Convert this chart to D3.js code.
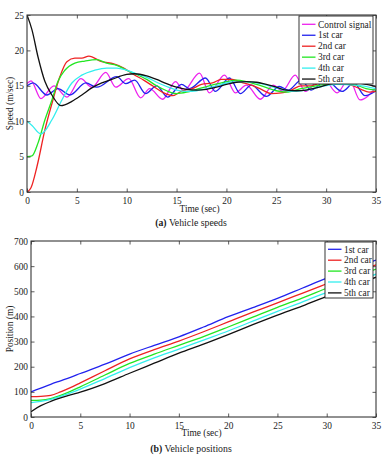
<!DOCTYPE html>
<html><head><meta charset="utf-8">
<script src="https://cdn.jsdelivr.net/npm/d3@7"></script>
<style>
html,body{margin:0;padding:0;background:#fff;}
svg{display:block;}
text{font-family:"Liberation Serif","DejaVu Serif","Times New Roman",serif;fill:#222;}
</style></head>
<body>
<svg id="c" width="383" height="457"></svg>
<script>
// ---------- Data: (a) vehicle speeds ----------
const speedTicksX = [0,5,10,15,20,25,30,35];
const speedTicksY = [0,5,10,15,20,25];
const controlT = [0,0.4,1.4,2.7,4.0,5.4,6.5,7.9,8.9,10.2,11.4,12.3,13.6,14.9,15.7,17.3,18.3,19.8,20.9,22.0,23.4,24.7,25.6,26.9,27.9,29.6,31.1,32.3,33.4,35];
const controlV = [15.3,15.7,13.2,15.0,13.4,16.0,14.8,16.9,14.8,16.0,13.3,14.6,13.1,15.6,14.3,16.8,14.0,16.5,14.0,15.1,13.1,15.1,14.3,16.5,14.2,16.3,14.0,16.0,13.0,14.8];
const car1T = [0,0.6,2.0,3.1,4.3,5.9,7.0,9.0,9.9,10.8,11.9,13.0,14.1,15.5,16.3,17.9,18.9,20.3,21.4,22.5,24.0,25.3,26.2,27.5,28.5,30.0,31.6,32.8,33.9,35];
const car1V = [15.0,15.4,13.7,14.6,13.7,15.4,14.8,16.3,15.3,15.8,13.9,15.0,13.4,15.2,14.6,16.1,14.2,16.1,13.9,15.1,13.5,14.9,14.4,15.8,14.4,15.8,14.2,15.4,13.6,14.3];
const car2T = [0,0.4,1.0,1.8,2.6,3.3,4.0,4.8,5.5,6.2,7.5,8.7,9.7,10.7,11.7,12.7,13.7,14.6,15.6,16.6,17.5,18.6,19.5,20.6,21.5,22.5,23.5,24.5,25.5,26.5,27.5,28.5,29.5,30.5,31.5,32.5,33.5,34.3,35];
const car2V = [0,0.6,3.6,8.8,13.0,16.3,18.4,18.9,18.9,19.2,18.4,18.1,17.5,16.6,15.8,14.9,14.0,13.6,14.3,14.6,15.2,15.4,15.9,15.9,15.5,15.1,14.5,13.9,14.0,14.4,15.0,15.0,15.4,15.3,15.3,15.1,14.5,14.1,14.2];
const car3T = [0,0.5,1.1,1.8,2.5,3.1,3.8,4.8,5.8,7.0,8.0,9.0,10.0,11.0,12.0,13.0,14.0,15.0,16.0,17.0,18.0,19.5,21.0,22.0,23.5,25.0,26.0,27.5,29.0,31.0,33.0,34.0,35];
const car3V = [5.0,5.1,6.9,10.2,13.0,15.6,17.2,18.2,18.5,18.7,18.2,17.9,17.2,16.6,15.9,15.0,14.3,13.9,14.1,14.5,14.9,15.4,15.8,15.6,15.0,14.3,14.1,14.6,15.0,15.3,15.1,14.6,14.4];
const car4T = [0,0.5,1.4,2.5,3.5,4.5,5.5,6.8,8.0,9.0,10.0,11.0,12.0,13.0,14.0,15.0,16.0,17.0,18.0,19.0,20.5,22.0,23.5,25.0,26.5,28.0,29.5,31.0,33.0,35];
const car4V = [10.0,9.4,8.2,10.2,13.0,15.4,16.5,17.2,17.5,17.5,17.2,16.7,16.2,15.5,14.9,14.4,14.2,14.3,14.6,15.0,15.5,15.6,15.3,14.7,14.2,14.4,14.9,15.2,15.1,14.6];
const car5T = [0,0.5,1.1,1.8,2.5,3.4,4.5,5.5,6.5,7.5,8.5,10.0,10.8,12.0,13.0,14.0,15.0,16.0,17.0,18.0,19.0,20.0,21.0,22.0,23.0,24.0,25.0,26.0,27.0,28.0,29.0,30.0,31.0,32.0,33.0,34.0,35.0];
const car5V = [25.0,22.9,19.1,15.6,13.7,12.2,12.8,13.7,14.7,15.4,15.9,16.6,16.7,16.4,15.9,15.3,14.8,14.5,14.4,14.5,14.8,15.2,15.5,15.6,15.5,15.2,14.8,14.4,14.3,14.4,14.7,15.1,15.4,15.5,15.4,15.2,14.9];
const speedNames = ["Control signal","1st car","2nd car","3rd car","4th car","5th car"];

// ---------- Data: (b) vehicle positions ----------
const posTicksX = [0,5,10,15,20,25,30,35];
const posTicksY = [0,100,200,300,400,500,600,700];
const posT = [0,1,2,3,4,5,7.5,10,12.5,15,17.5,20,22.5,25,27.5,30,32.5,35];
const pos1 = [100,115,130,144,158,173,210,250,285,319,358,399,435,472,512,552,588,624];
const pos2 = [81,82,86,100,117,136,184,231,268,302,339,378,417,454,492,530,568,605];
const pos3 = [66,67,73,86,102,120,167,213,250,285,320,358,397,436,473,512,550,588];
const pos4 = [57,62,70,82,96,111,153,196,235,270,306,342,381,420,457,496,533,568];
const pos5 = [21,45,62,76,88,99,133,174,214,254,290,328,367,405,441,480,518,556];
const posNames = ["1st car","2nd car","3rd car","4th car","5th car"];

const colors = {m:"#ee22ee", b:"#2222ee", r:"#ee2222", g:"#22e622", c:"#33eeee", k:"#111111"};
const FONT = "Liberation Serif, DejaVu Serif, serif";

const svg = d3.select("#c");

function panel(opts){
  const {L,R,T,B,xDom,yDom,xTicks,yTicks,series,names,cols,legend,yLabel,caption,captionRest,xLabelY,captionY,id} = opts;
  const x = d3.scaleLinear().domain(xDom).range([L,R]);
  const y = d3.scaleLinear().domain(yDom).range([B,T]);
  const g = svg.append("g").attr("font-family",FONT);
  g.append("defs").append("clipPath").attr("id",id).append("rect")
    .attr("x",L).attr("y",T).attr("width",R-L).attr("height",B-T);
  const line = d3.line().x(d=>x(d[0])).y(d=>y(d[1])).curve(d3.curveMonotoneX);
  const lg = g.append("g").attr("clip-path",`url(#${id})`);
  series.forEach((s,i)=>{
    lg.append("path").attr("d",line(s)).attr("fill","none")
      .attr("stroke",cols[i]).attr("stroke-width",1.3);
  });
  g.append("rect").attr("x",L).attr("y",T).attr("width",R-L).attr("height",B-T)
    .attr("fill","none").attr("stroke","#222").attr("stroke-width",1);
  const fs = 9.4;
  const ax = g.append("g").attr("transform",`translate(0,${B})`)
    .call(d3.axisBottom(x).tickValues(xTicks).tickSize(-3.5).tickPadding(5.5));
  const axT = g.append("g").attr("transform",`translate(0,${T})`)
    .call(d3.axisTop(x).tickValues(xTicks).tickSize(-3.5).tickFormat(""));
  const ay = g.append("g").attr("transform",`translate(${L},0)`)
    .call(d3.axisLeft(y).tickValues(yTicks).tickSize(-3.5).tickPadding(3));
  const ayR = g.append("g").attr("transform",`translate(${R},0)`)
    .call(d3.axisRight(y).tickValues(yTicks).tickSize(-3.5).tickFormat(""));
  [ax,axT,ay,ayR].forEach(a=>{
    a.attr("font-family",FONT);
    a.select(".domain").remove();
    a.selectAll(".tick line").attr("stroke","#333").attr("stroke-width",0.8);
    a.selectAll("text").attr("font-size",fs).attr("font-family",FONT).attr("fill","#222");
  });
  g.append("text").attr("x",(L+R)/2 - 2).attr("y",xLabelY).attr("text-anchor","middle")
    .attr("font-size",fs).text("Time (sec)");
  g.append("text").attr("transform",`translate(12.5,${(T+B)/2}) rotate(-90)`)
    .attr("text-anchor","middle").attr("font-size",fs).text(yLabel);
  const cap = g.append("text").attr("x",191).attr("y",captionY).attr("text-anchor","middle").attr("font-size",9.8);
  cap.append("tspan").attr("font-weight","bold").text(caption);
  cap.append("tspan").text(" "+captionRest);
  const leg = g.append("g");
  leg.append("rect").attr("x",legend.x).attr("y",legend.y).attr("width",legend.w).attr("height",legend.h)
    .attr("fill","#fff").attr("stroke","#222").attr("stroke-width",0.9);
  names.forEach((n,i)=>{
    const yy = legend.y0 + i*legend.dy;
    leg.append("line").attr("x1",legend.x+3).attr("x2",legend.x+16.5).attr("y1",yy).attr("y2",yy)
      .attr("stroke",cols[i]).attr("stroke-width",1.3);
    leg.append("text").attr("x",legend.x+19).attr("y",yy+3.2).attr("font-size",fs).text(n);
  });
}

const zip = (T,V)=>T.map((t,i)=>[t,V[i]]);

panel({
  id:"clipA", L:27, R:376, T:15, B:192, xDom:[0,35], yDom:[0,25],
  xTicks:speedTicksX, yTicks:speedTicksY,
  series:[zip(controlT,controlV),zip(car1T,car1V),zip(car2T,car2V),zip(car3T,car3V),zip(car4T,car4V),zip(car5T,car5V)],
  names:speedNames, cols:[colors.m,colors.b,colors.r,colors.g,colors.c,colors.k],
  legend:{x:299,y:16,w:74,h:68,y0:24.3,dy:10.95},
  yLabel:"Speed (m/sec)", caption:"(a)", captionRest:"Vehicle speeds", xLabelY:211.5, captionY:225.5
});

panel({
  id:"clipB", L:31, R:376, T:241, B:417, xDom:[0,35], yDom:[0,700],
  xTicks:posTicksX, yTicks:posTicksY,
  series:[zip(posT,pos1),zip(posT,pos2),zip(posT,pos3),zip(posT,pos4),zip(posT,pos5)],
  names:posNames, cols:[colors.b,colors.r,colors.g,colors.c,colors.k],
  legend:{x:325,y:242,w:48,h:56,y0:249.3,dy:10.9},
  yLabel:"Position (m)", caption:"(b)", captionRest:"Vehicle positions", xLabelY:435.5, captionY:451.5
});
</script>
</body></html>
